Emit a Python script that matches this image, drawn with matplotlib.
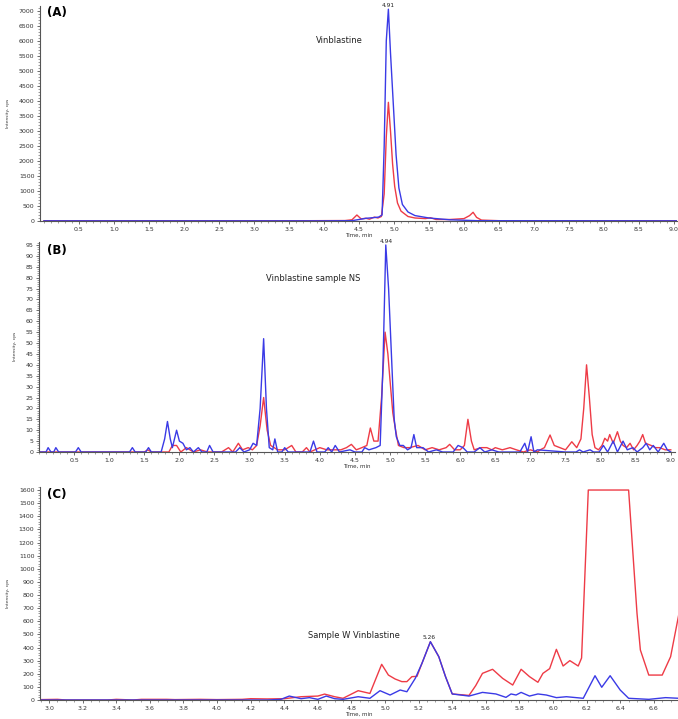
import matplotlib
matplotlib.use("Agg")
import matplotlib.pyplot as plt
from matplotlib.ticker import MultipleLocator, AutoMinorLocator

# ---------------- data ----------------
# Panel A : Vinblastine standard
a_blue_t = [0.0, 4.0, 4.4, 4.5, 4.6, 4.7, 4.78, 4.83, 4.86, 4.89, 4.92, 4.95, 4.99, 5.03, 5.07, 5.12, 5.2, 5.3, 5.5, 5.8, 6.2, 9.1]
a_blue_v = [5, 5, 10, 50, 90, 110, 130, 200, 2500, 6000, 7050, 5600, 3900, 2200, 1100, 550, 300, 180, 100, 40, 10, 5]
a_red_t = [0.0, 3.8, 4.3, 4.4, 4.47, 4.53, 4.6, 4.65, 4.72, 4.77, 4.82, 4.86, 4.89, 4.92, 4.95, 4.98, 5.01,
           5.05, 5.1, 5.2, 5.3, 5.45, 5.52, 5.6, 5.8, 6.0, 6.08, 6.13, 6.18, 6.25, 6.5, 9.1]
a_red_v = [10, 10, 15, 40, 200, 70, 90, 60, 130, 100, 150, 900, 2800, 3950, 3000, 1900, 1150,
           600, 330, 150, 100, 80, 110, 50, 50, 80, 180, 290, 120, 30, 10, 10]

# Panel B : Vinblastine sample NS
b_blue_t = [0.0, 0.1, 0.13, 0.17, 0.21, 0.24, 0.28, 0.52, 0.56, 0.6, 1.29, 1.33, 1.37, 1.52, 1.56, 1.6,
            1.74, 1.79, 1.83, 1.87, 1.9, 1.96, 2.0, 2.05, 2.1, 2.15, 2.2, 2.27, 2.32, 2.39, 2.43, 2.48,
            2.8, 2.86, 2.92, 3.0, 3.05, 3.1, 3.15, 3.2, 3.24, 3.28, 3.33, 3.36, 3.4, 3.46, 3.5, 3.55,
            3.86, 3.91, 3.96, 4.07, 4.12, 4.17, 4.22, 4.28, 4.43, 4.5, 4.6, 4.64, 4.7, 4.8, 4.86, 4.9,
            4.94, 4.98, 5.02, 5.06, 5.09, 5.14, 5.19, 5.25, 5.3, 5.34, 5.38, 5.47, 5.55, 5.66, 5.75,
            5.9, 5.97, 6.04, 6.1, 6.2, 6.28, 6.35, 6.45, 6.55, 6.85, 6.92, 6.96, 7.01, 7.05, 7.1, 7.5,
            7.65, 7.7, 7.75, 7.85, 7.9, 7.98, 8.04, 8.1, 8.18, 8.24, 8.32, 8.38, 8.46, 8.52, 8.6, 8.65,
            8.7, 8.75, 8.82, 8.9, 8.95, 9.0]
b_blue_v = [0, 0, 2, 0, 0, 2, 0, 0, 2, 0, 0, 2, 0, 0, 2, 0,
            0, 6, 14, 6, 2, 10, 5, 4, 1, 2, 0, 2, 0, 0, 3, 0,
            0, 2, 0, 1, 4, 3, 20, 52, 20, 2, 1, 6, 0, 0, 2, 0,
            0, 5, 0, 0, 2, 0, 3, 0, 1, 0, 0, 2, 1, 2, 3, 40,
            95, 75, 45, 15, 7, 3, 3, 1, 2, 8, 2, 2, 0, 1, 0,
            0, 3, 2, 0, 0, 2, 0, 1, 0, 0, 4, 0, 7, 0, 1, 0,
            0, 1, 0, 1, 0, 0, 3, 0, 5, 0, 5, 1, 2, 0, 2, 4,
            1, 3, 0, 4, 1, 0]
b_red_t = [0.0, 1.5, 1.55, 1.6, 1.85, 1.9, 1.96, 2.02, 2.1, 2.2, 2.3, 2.4, 2.6, 2.65, 2.7, 2.76, 2.84,
           2.9, 2.98, 3.04, 3.1, 3.15, 3.2, 3.25, 3.3, 3.4, 3.5, 3.6, 3.66, 3.75, 3.81, 3.86, 4.0, 4.1,
           4.2, 4.3, 4.38, 4.45, 4.52, 4.6, 4.67, 4.72, 4.77, 4.83, 4.88, 4.93, 4.97, 5.0, 5.04, 5.08,
           5.12, 5.2, 5.28, 5.4, 5.5, 5.6, 5.7, 5.8, 5.85, 5.92, 6.0, 6.06, 6.11, 6.16, 6.2, 6.3, 6.38,
           6.45, 6.5, 6.6, 6.71, 6.8, 6.9, 7.0, 7.1, 7.14, 7.2, 7.28, 7.34, 7.42, 7.5, 7.59, 7.66, 7.72,
           7.76, 7.8, 7.84, 7.88, 7.92, 7.97, 8.02, 8.06, 8.1, 8.13, 8.18, 8.24, 8.28, 8.32, 8.37, 8.42,
           8.47, 8.52, 8.56, 8.6, 8.64, 8.72, 8.78, 8.84, 8.92, 9.0]
b_red_v = [0, 0, 1, 0, 0, 3, 3, 0, 2, 0, 1, 0, 0, 1, 2, 0, 4,
           1, 2, 1, 3, 12, 25, 10, 3, 1, 1, 3, 0, 0, 2, 0, 2, 1,
           1, 1, 2, 3.5, 1, 2, 3, 11, 5, 5, 25, 55, 45, 33, 18, 10,
           3, 2, 2, 3, 1, 2, 1, 2, 3.5, 1, 1, 3, 15, 5, 1, 2, 2,
           1, 2, 1, 2, 1, 0, 1, 0, 1, 2, 7.8, 3, 2, 1, 4.7, 2, 6,
           20, 40, 25, 8, 2, 1, 3, 6.3, 5, 8, 4, 9.3, 5, 3, 2, 4,
           1, 3, 5, 8, 4, 3, 2, 2, 1, 1]

# Panel C : Sample W Vinblastine
c_blue_t = [2.95, 4.3, 4.38, 4.43, 4.5, 4.55, 4.6, 4.65, 4.7, 4.75, 4.84, 4.91, 4.97, 5.03, 5.09, 5.13,
            5.18, 5.22, 5.27, 5.32, 5.36, 5.4, 5.5, 5.58, 5.66, 5.72, 5.75, 5.78, 5.81, 5.86, 5.91,
            5.96, 6.02, 6.08, 6.18, 6.25, 6.29, 6.34, 6.4, 6.45, 6.57, 6.67, 6.75]
c_blue_v = [0, 0, 5, 30, 10, 18, 5, 30, 10, 5, 25, 13, 71, 38, 76, 63,
            165, 280, 444, 330, 178, 46, 30, 58, 46, 20, 46, 38, 58, 30, 46,
            38, 18, 25, 13, 185, 97, 185, 76, 13, 5, 18, 13]
c_red_t = [2.95, 3.05, 3.1, 3.35, 3.4, 3.5, 3.55, 3.7, 3.75, 3.9, 4.0, 4.15, 4.2, 4.3, 4.4, 4.5, 4.6,
           4.64, 4.7, 4.75, 4.84, 4.91, 4.98, 5.02, 5.06, 5.1, 5.13, 5.16, 5.19, 5.22, 5.27, 5.32, 5.36,
           5.4, 5.5, 5.54, 5.58, 5.64, 5.7, 5.76, 5.81, 5.86, 5.91, 5.94, 5.98, 6.02, 6.06, 6.1, 6.15,
           6.17, 6.21, 6.45, 6.5, 6.52, 6.57, 6.65, 6.7, 6.75]
c_red_v = [3, 5, 0, 0, 5, 0, 5, 5, 3, 5, 3, 5, 10, 8, 10, 25, 30,
           45, 25, 13, 71, 50, 272, 190, 160, 140, 140, 178, 180, 280, 444, 330, 178,
           46, 35, 110, 203, 234, 165, 114, 234, 178, 135, 203, 239, 386, 259, 300, 259,
           320, 1600, 1600, 660, 381, 190, 190, 330, 660]

a_yticks = list(range(0, 7001, 500))
a_xticks = [0.5 * i for i in range(1, 19)]
b_yticks = list(range(0, 96, 5))
b_xticks = [0.5 * i for i in range(1, 19)]
c_yticks = list(range(0, 1601, 100))
c_xticks = [round(3.0 + 0.2 * i, 1) for i in range(0, 19)]

RED = "#ee3b46"
BLUE = "#3a3ae6"

plt.rcParams["font.family"] = ["DejaVu Sans"]

fig = plt.figure(figsize=(6.78, 7.19), dpi=100)
W, H = 678.0, 719.0


def make_axes(left, bottom_px, width, height_px):
    return fig.add_axes([left / W, 1 - bottom_px / H, width / W, height_px / H])


axA = make_axes(40, 221, 637, 214.8)
axB = make_axes(39, 452, 636, 210.3)
axC = make_axes(40, 700, 638, 212.6)


def style(ax, xticks, yticks, xlim, ylim, xminor, yminor):
    for s in ["top", "right"]:
        ax.spines[s].set_visible(False)
    for s in ["left", "bottom"]:
        ax.spines[s].set_color("#555555")
        ax.spines[s].set_linewidth(0.8)
    ax.set_xlim(*xlim)
    ax.set_ylim(*ylim)
    ax.set_xticks(xticks)
    ax.set_yticks(yticks)
    ax.xaxis.set_minor_locator(AutoMinorLocator(xminor))
    ax.yaxis.set_minor_locator(AutoMinorLocator(yminor))
    ax.tick_params(axis="both", which="major", direction="out", length=2.5, width=0.6,
                   labelsize=4.5, labelcolor="#333333", color="#555555", pad=1.5)
    ax.tick_params(axis="both", which="minor", direction="out", length=1.2, width=0.4, color="#555555")
    ax.set_ylabel("Intensity, cps", fontsize=3.2, color="#333333", labelpad=6)
    ax.set_xlabel("Time, min", fontsize=4, color="#333333", labelpad=1)


# Panel A
axA.plot(a_red_t, a_red_v, color=RED, lw=1.0)
axA.plot(a_blue_t, a_blue_v, color=BLUE, lw=1.0)
style(axA, a_xticks, a_yticks, (-0.057, 9.043), (0, 7150), 5, 5)
axA.set_xticklabels(["%.1f" % v for v in a_xticks])
axA.text(3.89, 6000, "Vinblastine", fontsize=6, color="#222222", ha="left", va="center")
axA.text(4.91, 7080, "4.91", fontsize=4.2, color="#222222", ha="center", va="bottom")
axA.text(0.04, 6950, "(A)", fontsize=8.5, fontweight="bold", ha="left", va="center")

# Panel B
axB.plot(b_red_t, b_red_v, color=RED, lw=1.0)
axB.plot(b_blue_t, b_blue_v, color=BLUE, lw=1.0)
style(axB, b_xticks, b_yticks, (0, 9.06), (0, 96.5), 5, 5)
axB.set_xticklabels(["%.1f" % v for v in b_xticks])
axB.text(3.23, 79.5, "Vinblastine sample NS", fontsize=6, color="#222222", ha="left", va="center")
axB.text(4.94, 95.6, "4.94", fontsize=4.2, color="#222222", ha="center", va="bottom")
axB.text(0.12, 92.5, "(B)", fontsize=8.5, fontweight="bold", ha="left", va="center")

# Panel C
axC.plot(c_red_t, c_red_v, color=RED, lw=1.0)
axC.plot(c_blue_t, c_blue_v, color=BLUE, lw=1.0)
style(axC, c_xticks, c_yticks, (2.946, 6.744), (0, 1620), 4, 5)
axC.set_xticklabels(["%.1f" % v for v in c_xticks])
axC.text(4.54, 490, "Sample W Vinblastine", fontsize=6, color="#222222", ha="left", va="center")
axC.text(5.26, 455, "5.26", fontsize=4.2, color="#222222", ha="center", va="bottom")
axC.text(2.99, 1565, "(C)", fontsize=8.5, fontweight="bold", ha="left", va="center")

fig.savefig("out.png", dpi=100)
